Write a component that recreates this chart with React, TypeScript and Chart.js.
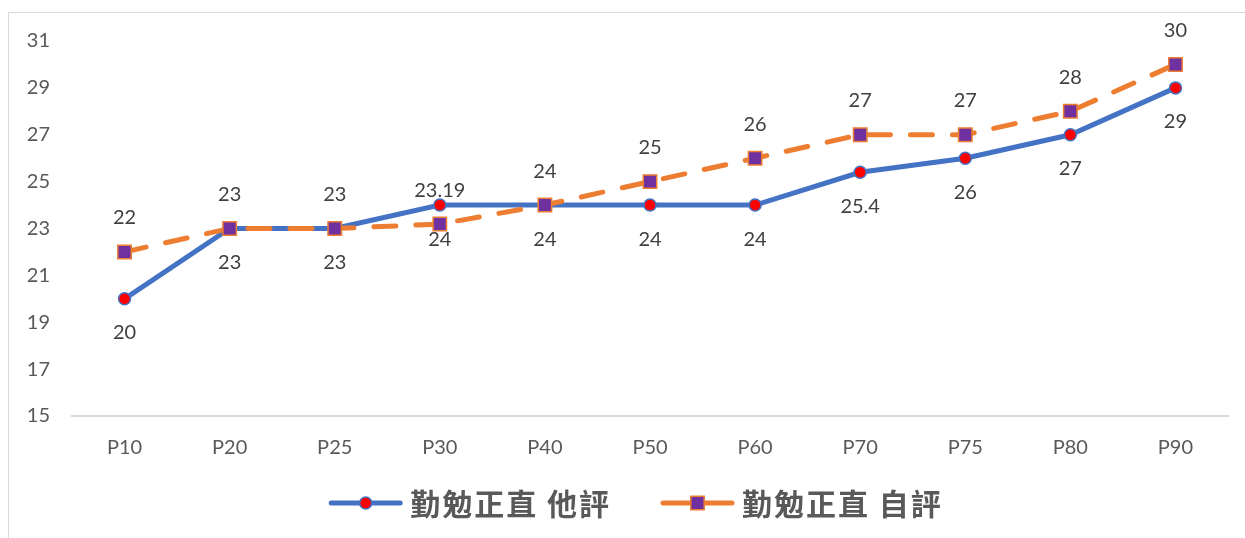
import React, { useEffect, useRef } from "react";
import { Chart, registerables } from "chart.js";

Chart.register(...registerables);

// Percentile categories and the two rating series
const categories = ["P10", "P20", "P25", "P30", "P40", "P50", "P60", "P70", "P75", "P80", "P90"];
const peerRating = [20, 23, 23, 24, 24, 24, 24, 25.4, 26, 27, 29];
const selfRating = [22, 23, 23, 23.19, 24, 25, 26, 27, 27, 28, 30];
const seriesNames = ["勤勉正直 他評", "勤勉正直 自評"];

const BLUE = "#4472C4";
const ORANGE = "#ED7D31";
const RED = "#FF0000";
const PURPLE = "#7030A0";
const TICK_COLOR = "#595959";
const LABEL_COLOR = "#404040";
const FONT = "Lato, 'Liberation Sans', sans-serif";

// Writes each point's value beside it; side: -1 above, +1 below
const valueLabels = {
  id: "valueLabels",
  afterDatasetsDraw(chart: any, _args: any, opts: any) {
    const ctx = chart.ctx;
    ctx.save();
    ctx.font = `20px ${FONT}`;
    ctx.fillStyle = LABEL_COLOR;
    ctx.textAlign = "center";
    ctx.textBaseline = "middle";
    chart.data.datasets.forEach((ds: any, i: number) => {
      const side = opts.sides[i];
      const meta = chart.getDatasetMeta(i);
      meta.data.forEach((pt: any, j: number) => {
        ctx.fillText(String(ds.data[j]), pt.x, pt.y + side * opts.offset);
      });
    });
    ctx.restore();
  },
};

// Legend showing a line sample with its marker, followed by the series name
const lineLegend = {
  id: "lineLegend",
  afterDraw(chart: any) {
    const ctx = chart.ctx;
    const sampleLen = 73;
    const textGap = 8;
    const itemGap = 50;
    ctx.save();
    ctx.font = `bold 30px 'Noto Sans CJK TC', sans-serif`;
    (ctx as any).letterSpacing = "2px";
    const items = chart.data.datasets.map((ds: any) => ({
      ds,
      w: sampleLen + textGap + ctx.measureText(ds.label).width,
    }));
    const total = items.reduce((s: number, it: any) => s + it.w, 0) + itemGap * (items.length - 1);
    let x = chart.width / 2 + 9 - total / 2;
    const y = chart.height - 35;
    items.forEach((it: any) => {
      const ds = it.ds;
      ctx.beginPath();
      ctx.strokeStyle = ds.borderColor;
      ctx.lineWidth = ds.borderWidth;
      ctx.lineCap = "round";
      ctx.setLineDash([]);
      ctx.moveTo(x + 2, y);
      ctx.lineTo(x + sampleLen - 2, y);
      ctx.stroke();
      const cx = x + sampleLen / 2;
      ctx.fillStyle = ds.pointBackgroundColor;
      ctx.strokeStyle = ds.pointBorderColor;
      ctx.lineWidth = ds.pointBorderWidth;
      ctx.beginPath();
      if (ds.pointStyle === "rect") {
        const h = Math.SQRT1_2 * ds.pointRadius;
        ctx.rect(cx - h, y - h, 2 * h, 2 * h);
      } else {
        ctx.arc(cx, y, ds.pointRadius, 0, Math.PI * 2);
      }
      ctx.fill();
      ctx.stroke();
      ctx.fillStyle = "#595959";
      ctx.textAlign = "left";
      ctx.textBaseline = "middle";
      ctx.fillText(ds.label, x + sampleLen + textGap, y + 1);
      x += it.w + itemGap;
    });
    ctx.restore();
  },
};

export default function App() {
  const canvasRef = useRef<HTMLCanvasElement | null>(null);

  useEffect(() => {
    if (!canvasRef.current) return;
    const chart = new Chart(canvasRef.current, {
      type: "line",
      data: {
        labels: categories,
        datasets: [
          {
            label: seriesNames[0],
            data: peerRating,
            borderColor: BLUE,
            borderWidth: 5,
            pointStyle: "circle",
            pointRadius: 6,
            pointBackgroundColor: RED,
            pointBorderColor: BLUE,
            pointBorderWidth: 1.5,
            tension: 0,
            order: 2,
          },
          {
            label: seriesNames[1],
            data: selfRating,
            borderColor: ORANGE,
            borderWidth: 5,
            borderDash: [22, 20],
            borderCapStyle: "round",
            pointStyle: "rect",
            pointRadius: 9.5,
            pointBackgroundColor: PURPLE,
            pointBorderColor: ORANGE,
            pointBorderWidth: 1.5,
            tension: 0,
            order: 1,
          },
        ] as any,
      },
      options: {
        animation: false,
        responsive: true,
        maintainAspectRatio: false,
        layout: { padding: { left: 0, top: 28, right: 17, bottom: 0 } },
        plugins: {
          legend: { display: false },
          tooltip: { enabled: false },
          valueLabels: { sides: [1, -1], offset: 34 },
        } as any,
        scales: {
          x: {
            offset: true,
            grid: { display: false, drawTicks: false },
            border: { display: true, color: "#D9D9D9", width: 2 },
            ticks: { color: TICK_COLOR, font: { family: FONT, size: 20 }, padding: 20 },
            afterFit: (scale: any) => {
              scale.height = 122;
            },
          },
          y: {
            min: 15,
            max: 31,
            grid: { display: false, drawTicks: false },
            border: { display: false },
            ticks: { stepSize: 2, color: TICK_COLOR, font: { family: FONT, size: 20 }, padding: 22 },
            afterFit: (scale: any) => {
              scale.width = 63;
              scale.paddingTop = 0;
              scale.paddingBottom = 0;
            },
          },
        },
      },
      plugins: [valueLabels, lineLegend],
    });
    return () => chart.destroy();
  }, []);

  return (
    <div
      style={{
        position: "absolute",
        left: 8,
        top: 12,
        width: 1237,
        height: 526,
        boxSizing: "border-box",
        borderTop: "1px solid #D9D9D9",
        borderLeft: "1px solid #D9D9D9",
        background: "#fff",
      }}
    >
      <canvas ref={canvasRef} />
    </div>
  );
}
